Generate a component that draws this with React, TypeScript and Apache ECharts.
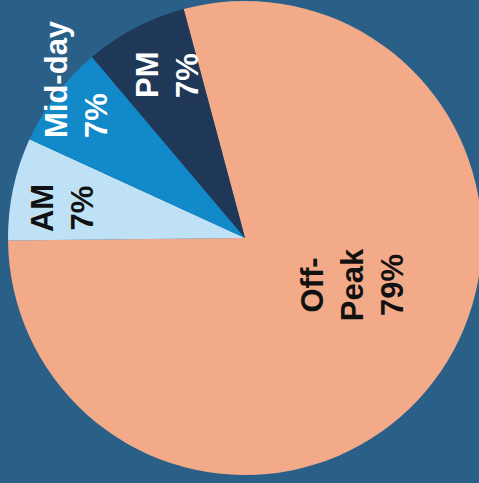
import React, { useEffect, useRef } from "react";
import * as echarts from "echarts";

const categories = ["Off-\nPeak", "AM", "Mid-day", "PM"];
const values = [79, 7, 7, 7];
const colors = ["#f3aa88", "#bfe1f5", "#1289c9", "#1f3858"];
const textColors = ["#111111", "#111111", "#ffffff", "#ffffff"];

export default function App() {
  const ref = useRef<HTMLDivElement>(null);
  useEffect(() => {
    document.body.style.margin = "0";
    document.body.style.background = "#2a6087";
    const chart = echarts.init(ref.current!, null, { renderer: "svg" });
    const labelSpots: Record<number, any> = {
      0: { x: 352, y: 285, align: "center" },
      1: { x: 62, y: 208, align: "center" },
      2: { x: 76, y: 138, align: "left" },
      3: { x: 167, y: 98, align: "left" },
    };
    chart.setOption({
      animation: false,
      backgroundColor: "#2a6087",
      series: [
        {
          type: "pie",
          center: [245, 238],
          radius: 237,
          startAngle: 105,
          clockwise: true,
          label: {
            show: true,
            position: "inside",
            rotate: 90,
            fontFamily: "Liberation Sans, Arial, sans-serif",
            fontWeight: "bold",
            fontSize: 31,
            lineHeight: 40,
            formatter: (p: any) => `${p.name}\n${p.value}%`,
          },
          labelLine: { show: false },
          labelLayout: (params: any) => {
            const s = labelSpots[params.dataIndex];
            return { x: s.x, y: s.y, align: s.align, verticalAlign: "middle", rotate: 90 };
          },
          data: categories.map((name, i) => ({
            name,
            value: values[i],
            itemStyle: { color: colors[i] },
            label: { color: textColors[i] },
          })),
        },
      ],
    });
    return () => chart.dispose();
  }, []);
  return <div ref={ref} style={{ width: 479, height: 483 }} />;
}
